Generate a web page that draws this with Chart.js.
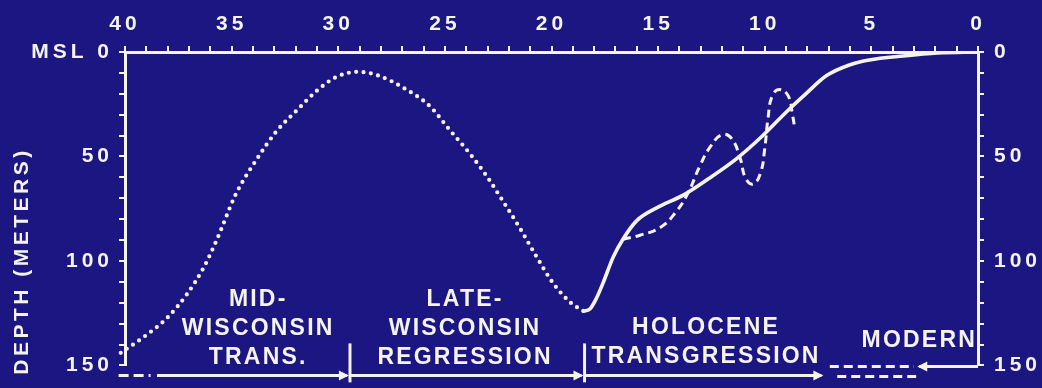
<!DOCTYPE html>
<html>
<head>
<meta charset="utf-8">
<script src="https://cdn.jsdelivr.net/npm/chart.js@4.4.0/dist/chart.umd.min.js"></script>
<style>
  html, body { margin: 0; padding: 0; background: #1c1682; }
  #wrap { width: 1042px; height: 388px; }
</style>
</head>
<body>
<div id="wrap"><canvas id="sealevel" width="1042" height="388"></canvas></div>
<script>
// age in thousands of years before present, depth in metres below MSL
const dotted_age   = [40.2, 39.2, 38.0, 37.1, 36.3, 35.7, 34.8, 33.8, 32.9, 31.9, 31.0, 30.1, 29.1, 28.2, 26.8, 25.7, 24.8, 23.8, 23.0, 22.3, 21.5, 20.7, 19.9, 19.1, 18.5];
const dotted_depth = [144, 137, 127, 116, 103, 90, 68, 51, 38, 27.5, 18.5, 12, 9.5, 11, 18, 26, 37, 49, 60, 71, 84, 98, 111, 120, 124];

const solid_age   = [18.5, 18.2, 17.9, 17.6, 17.1, 16.65, 16.0, 15.05, 13.8, 12.6, 11.3, 10.1, 9.0, 8.0, 7.1, 6.0, 5.1, 3.5, 1.9, 0];
const solid_depth = [124, 123, 118, 111, 98, 89.6, 80.7, 74.5, 68.4, 60.4, 50.9, 40.1, 28.8, 19.3, 11.3, 6.1, 3.8, 1.9, 0.5, 0];

const dashed_age   = [16.65, 15.85, 14.9, 14.2, 13.6, 13.05, 12.55, 12.0, 11.55, 11.15, 10.9, 10.55, 10.2, 10.0, 9.85, 9.65, 9.3, 8.9, 8.7, 8.6];
const dashed_depth = [89.6, 87.7, 84, 77, 67.5, 54.7, 45.3, 39.6, 41.5, 51, 60.4, 63.2, 58, 46.2, 32, 21, 18, 21, 30, 36];

// tick labels
const age_labels   = [40, 35, 30, 25, 20, 15, 10, 5, 0];
const depth_labels = [0, 50, 100, 150];

// periods along the bottom (label lines, centre age)
const periods = [
    {lines: ['MID-', 'WISCONSIN', 'TRANS.'], age: 33.8},
    {lines: ['LATE-', 'WISCONSIN', 'REGRESSION'], age: 24.1},
    {lines: ['HOLOCENE', 'TRANSGRESSION'], age: 12.8},
    {lines: ['MODERN'], age: 2.8}
];

const BG = '#1c1682';
const INK = '#f4f4ec';
const FONT = '"Liberation Sans", Arial, sans-serif';

function pts(xs, ys) {
    return xs.map((x, i) => ({x: x, y: ys[i]}));
}

// background + letter spacing for every text
const bgPlugin = {
    id: 'bg',
    beforeDraw(chart) {
        const ctx = chart.ctx;
        ctx.save();
        ctx.fillStyle = BG;
        ctx.fillRect(0, 0, chart.width, chart.height);
        ctx.restore();
        ctx.letterSpacing = '4px';
    }
};

function arrowHead(ctx, x, y, dir) {
    ctx.beginPath();
    ctx.moveTo(x, y);
    ctx.lineTo(x - dir * 10, y - 5);
    ctx.lineTo(x - dir * 10, y + 5);
    ctx.closePath();
    ctx.fill();
}

// axis title, period labels and arrows under the chart
const notesPlugin = {
    id: 'notes',
    afterDraw(chart) {
        const ctx = chart.ctx;
        const X = v => chart.scales.x.getPixelForValue(v);
        const bottom = chart.chartArea.bottom;
        const yA = bottom + 10;

        ctx.save();
        ctx.strokeStyle = INK;
        ctx.fillStyle = INK;
        ctx.lineWidth = 3;

        // depth title
        ctx.save();
        ctx.translate(22, 261);
        ctx.rotate(-Math.PI / 2);
        ctx.font = 'bold 21px ' + FONT;
        ctx.letterSpacing = '3.5px';
        ctx.textAlign = 'center';
        ctx.textBaseline = 'middle';
        ctx.fillText('DEPTH (METERS)', 0, 0);
        ctx.restore();

        // dashed lead-in at left
        ctx.setLineDash([10, 5]);
        ctx.beginPath();
        ctx.moveTo(X(40.3), yA); ctx.lineTo(X(38.8), yA);
        ctx.stroke();
        ctx.setLineDash([]);

        // period arrows
        [[38.5, 29.5], [29.4, 18.5], [18.4, 7.25]].forEach(seg => {
            ctx.beginPath();
            ctx.moveTo(X(seg[0]), yA); ctx.lineTo(X(seg[1]) - 2, yA);
            ctx.stroke();
            arrowHead(ctx, X(seg[1]), yA, 1);
        });

        // separators
        [29.45, 18.45].forEach(a => {
            ctx.beginPath();
            ctx.moveTo(X(a), bottom - 22); ctx.lineTo(X(a), bottom + 17);
            ctx.stroke();
        });

        // modern: double dashes and back arrow
        ctx.setLineDash([9, 5]);
        ctx.beginPath();
        ctx.moveTo(X(6.95), bottom + 1); ctx.lineTo(X(3.0), bottom + 1);
        ctx.moveTo(X(6.6), yA + 1); ctx.lineTo(X(2.9), yA + 1);
        ctx.stroke();
        ctx.setLineDash([]);
        ctx.beginPath();
        ctx.moveTo(X(0), bottom + 1); ctx.lineTo(X(2.85) + 2, bottom + 1);
        ctx.stroke();
        arrowHead(ctx, X(2.85), bottom + 1, -1);

        // period labels
        ctx.font = 'bold 23px ' + FONT;
        ctx.letterSpacing = '2.2px';
        ctx.textAlign = 'center';
        ctx.textBaseline = 'middle';
        periods.forEach(p => {
            const n = p.lines.length;
            let y0 = bottom - 66;
            if (n === 2) y0 = bottom - 38;
            if (n === 1) y0 = bottom - 25;
            p.lines.forEach((t, i) => {
                ctx.fillText(t, X(p.age) + 1, y0 + i * 29);
            });
        });
        ctx.restore();
    }
};

const tickFont = {family: FONT, size: 21, weight: 'bold'};

const chart = new Chart(document.getElementById('sealevel'), {
    type: 'scatter',
    data: {
        datasets: [
            {
                data: pts(dotted_age, dotted_depth),
                showLine: true,
                borderColor: INK,
                borderWidth: 4.2,
                borderDash: [0, 7.4],
                borderCapStyle: 'round',
                cubicInterpolationMode: 'monotone',
                pointRadius: 0,
                clip: false
            },
            {
                data: pts(solid_age, solid_depth),
                showLine: true,
                borderColor: INK,
                borderWidth: 3.6,
                borderCapStyle: 'round',
                cubicInterpolationMode: 'monotone',
                pointRadius: 0
            },
            {
                data: pts(dashed_age, dashed_depth),
                showLine: true,
                borderColor: INK,
                borderWidth: 3,
                borderDash: [8, 5],
                tension: 0.45,
                pointRadius: 0
            }
        ]
    },
    options: {
        responsive: false,
        devicePixelRatio: 1,
        animation: false,
        layout: {padding: {top: 0, left: 0, right: 0, bottom: 18}},
        plugins: {legend: {display: false}, tooltip: {enabled: false}},
        scales: {
            x: {
                type: 'linear', position: 'top', reverse: true, min: 0, max: 40,
                afterFit: s => { s.height = 52; },
                border: {color: INK, width: 3},
                grid: {drawOnChartArea: false, color: INK, lineWidth: 2, tickLength: 6},
                ticks: {
                    stepSize: 1, autoSkip: false, maxRotation: 0, color: INK, font: tickFont, padding: 9,
                    callback: v => age_labels.includes(v) ? String(v) : ''
                }
            },
            y: {
                type: 'linear', position: 'left', reverse: true, min: 0, max: 150,
                afterFit: s => { s.width = 125; },
                border: {color: INK, width: 3},
                grid: {drawOnChartArea: false, color: INK, lineWidth: 2, tickLength: 6},
                ticks: {
                    stepSize: 10, autoSkip: false, color: INK, font: tickFont, padding: 6,
                    callback: v => depth_labels.includes(v) ? (v === 0 ? 'MSL 0' : String(v)) : ''
                }
            },
            y2: {
                type: 'linear', position: 'right', reverse: true, min: 0, max: 150,
                afterFit: s => { s.width = 64; },
                border: {color: INK, width: 3},
                grid: {drawOnChartArea: false, color: INK, lineWidth: 2, tickLength: 6},
                ticks: {
                    stepSize: 10, autoSkip: false, color: INK, font: tickFont, padding: 10,
                    callback: v => depth_labels.includes(v) ? String(v) : ''
                }
            }
        }
    },
    plugins: [bgPlugin, notesPlugin]
});
</script>
</body>
</html>
